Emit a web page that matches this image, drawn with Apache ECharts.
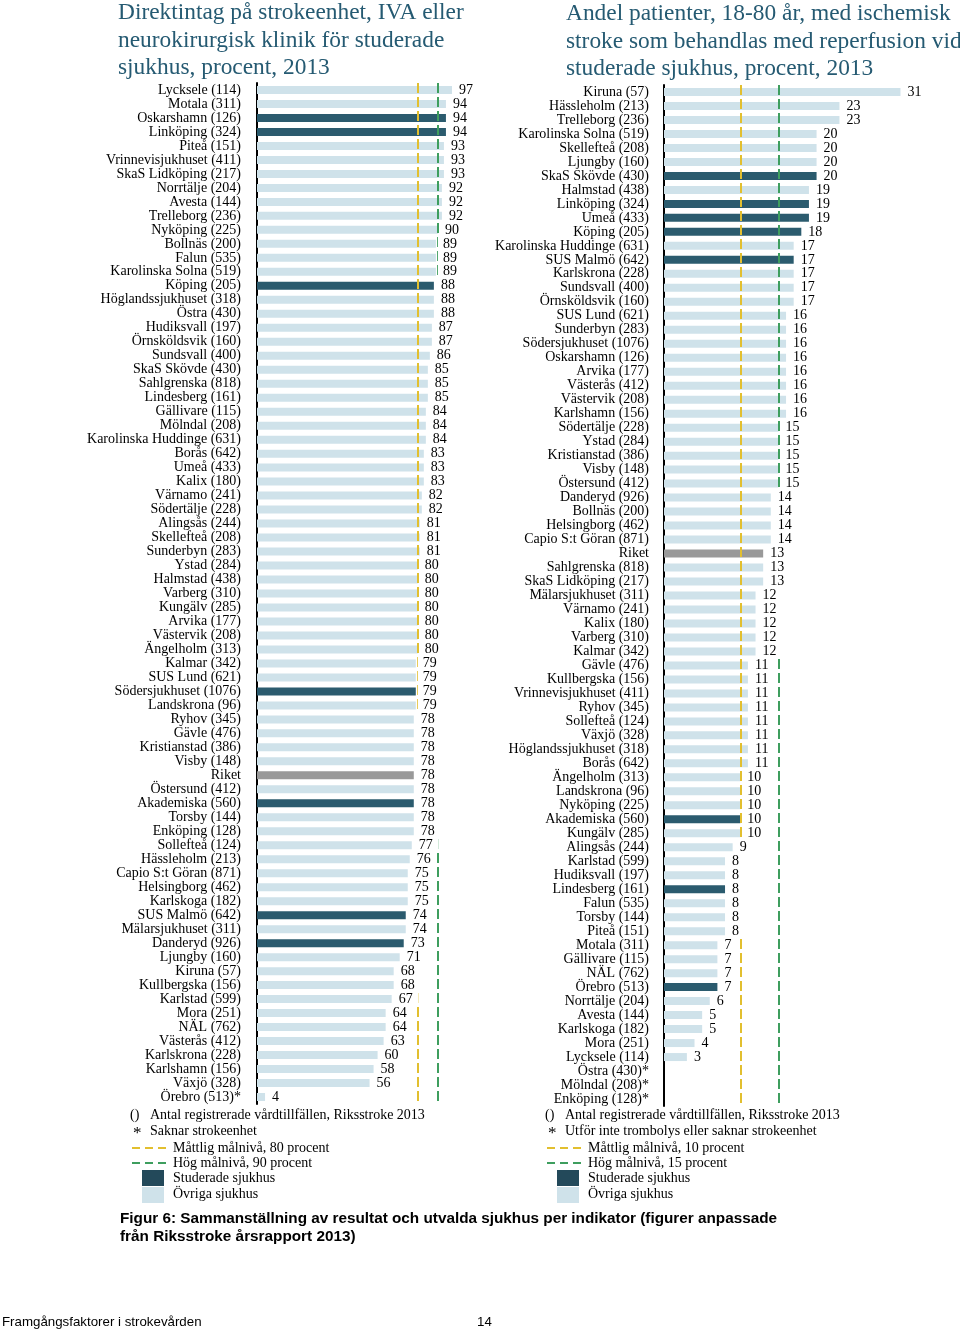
<!DOCTYPE html>
<html><head><meta charset="utf-8">
<script src="https://cdn.jsdelivr.net/npm/echarts@6/dist/echarts.min.js"></script>
<style>html,body{margin:0;padding:0;background:#fff}#c{width:960px;height:1331px}</style>
</head><body><div id="c"></div>
<script>
const leftCategories = ['Lycksele (114)','Motala (311)','Oskarshamn (126)','Linköping (324)','Piteå (151)','Vrinnevisjukhuset (411)','SkaS Lidköping (217)','Norrtälje (204)','Avesta (144)','Trelleborg (236)','Nyköping (225)','Bollnäs (200)','Falun (535)','Karolinska Solna (519)','Köping (205)','Höglandssjukhuset (318)','Östra (430)','Hudiksvall (197)','Örnsköldsvik (160)','Sundsvall (400)','SkaS Skövde (430)','Sahlgrenska (818)','Lindesberg (161)','Gällivare (115)','Mölndal (208)','Karolinska Huddinge (631)','Borås (642)','Umeå (433)','Kalix (180)','Värnamo (241)','Södertälje (228)','Alingsås (244)','Skellefteå (208)','Sunderbyn (283)','Ystad (284)','Halmstad (438)','Varberg (310)','Kungälv (285)','Arvika (177)','Västervik (208)','Ängelholm (313)','Kalmar (342)','SUS Lund (621)','Södersjukhuset (1076)','Landskrona (96)','Ryhov (345)','Gävle (476)','Kristianstad (386)','Visby (148)','Riket','Östersund (412)','Akademiska (560)','Torsby (144)','Enköping (128)','Sollefteå (124)','Hässleholm (213)','Capio S:t Göran (871)','Helsingborg (462)','Karlskoga (182)','SUS Malmö (642)','Mälarsjukhuset (311)','Danderyd (926)','Ljungby (160)','Kiruna (57)','Kullbergska (156)','Karlstad (599)','Mora (251)','NÄL (762)','Västerås (412)','Karlskrona (228)','Karlshamn (156)','Växjö (328)','Örebro (513)*'];
const leftValues = [97,94,94,94,93,93,93,92,92,92,90,89,89,89,88,88,88,87,87,86,85,85,85,84,84,84,83,83,83,82,82,81,81,81,80,80,80,80,80,80,80,79,79,79,79,78,78,78,78,78,78,78,78,78,77,76,75,75,75,74,74,73,71,68,68,67,64,64,63,60,58,56,4];
const leftStudied = ['Oskarshamn (126)','Linköping (324)','Köping (205)','Södersjukhuset (1076)','Akademiska (560)','SUS Malmö (642)','Danderyd (926)'];
const leftTargets = [80, 90];

const rightCategories = ['Kiruna (57)','Hässleholm (213)','Trelleborg (236)','Karolinska Solna (519)','Skellefteå (208)','Ljungby (160)','SkaS Skövde (430)','Halmstad (438)','Linköping (324)','Umeå (433)','Köping (205)','Karolinska Huddinge (631)','SUS Malmö (642)','Karlskrona (228)','Sundsvall (400)','Örnsköldsvik (160)','SUS Lund (621)','Sunderbyn (283)','Södersjukhuset (1076)','Oskarshamn (126)','Arvika (177)','Västerås (412)','Västervik (208)','Karlshamn (156)','Södertälje (228)','Ystad (284)','Kristianstad (386)','Visby (148)','Östersund (412)','Danderyd (926)','Bollnäs (200)','Helsingborg (462)','Capio S:t Göran (871)','Riket','Sahlgrenska (818)','SkaS Lidköping (217)','Mälarsjukhuset (311)','Värnamo (241)','Kalix (180)','Varberg (310)','Kalmar (342)','Gävle (476)','Kullbergska (156)','Vrinnevisjukhuset (411)','Ryhov (345)','Sollefteå (124)','Växjö (328)','Höglandssjukhuset (318)','Borås (642)','Ängelholm (313)','Landskrona (96)','Nyköping (225)','Akademiska (560)','Kungälv (285)','Alingsås (244)','Karlstad (599)','Hudiksvall (197)','Lindesberg (161)','Falun (535)','Torsby (144)','Piteå (151)','Motala (311)','Gällivare (115)','NÄL (762)','Örebro (513)','Norrtälje (204)','Avesta (144)','Karlskoga (182)','Mora (251)','Lycksele (114)','Östra (430)*','Mölndal (208)*','Enköping (128)*'];
const rightValues = [31,23,23,20,20,20,20,19,19,19,18,17,17,17,17,17,16,16,16,16,16,16,16,16,15,15,15,15,15,14,14,14,14,13,13,13,12,12,12,12,12,11,11,11,11,11,11,11,11,10,10,10,10,10,9,8,8,8,8,8,8,7,7,7,7,6,5,5,4,3,null,null,null];
const rightStudied = ['SkaS Skövde (430)','Linköping (324)','Umeå (433)','Köping (205)','SUS Malmö (642)','Akademiska (560)','Lindesberg (161)','Örebro (513)'];
const rightTargets = [10, 15];

const SERIF = '"Liberation Serif","Times New Roman",serif';
const SANS = '"Liberation Sans",Arial,sans-serif';
const DARK = '#2B5B6E', LIGHT = '#CFE2EA', GRAY = '#999999';
const YELLOW = '#E2BF2F', GREEN = '#3E9E5E', TITLE = '#255A72';

function barColor(name, studied) {
  if (name === 'Riket') return GRAY;
  return studied.indexOf(name) >= 0 ? DARK : LIGHT;
}

function makeSeries(idx, cats, vals, studied, targets) {
  return [
    {
      type: 'bar', xAxisIndex: idx, yAxisIndex: idx, barWidth: 8, barGap: '-100%', z: 2,
      animation: false,
      data: vals.map((v, i) => ({ value: v, itemStyle: { color: barColor(cats[i], studied) } })),
      markLine: {
        silent: true, symbol: 'none', z: 3, animation: false, label: { show: false },
        data: [
          { xAxis: targets[0], lineStyle: { color: YELLOW, type: [10, 4], width: 2 } },
          { xAxis: targets[1], lineStyle: { color: GREEN, type: [10, 4], width: 2 } }
        ]
      }
    },
    {
      type: 'bar', xAxisIndex: idx, yAxisIndex: idx, barWidth: 8, barGap: '-100%', z: 10,
      silent: true, animation: false,
      itemStyle: { color: 'rgba(0,0,0,0)' },
      label: {
        show: true, position: 'right', distance: 2,
        formatter: p => (p.value == null ? '' : String(p.value)),
        fontFamily: SERIF, fontSize: 14, color: '#000',
        backgroundColor: '#fff', padding: [1, 6, 0, 5], lineHeight: 13
      },
      data: vals
    }
  ];
}

function yAxisFor(idx, cats, margin) {
  return {
    type: 'category', gridIndex: idx, inverse: true, data: cats,
    axisLine: { show: true, lineStyle: { color: '#000', width: 2 } },
    axisTick: { show: false },
    axisLabel: { fontFamily: SERIF, fontSize: 14, color: '#000', margin: margin, interval: 0 }
  };
}

function legendGroup(x0, starText, lowText, highText) {
  const f = '14px ' + SERIF;
  const els = [];
  const t = (text, x, y) => els.push({ type: 'text', style: { text, x, y, font: f, fill: '#000', verticalAlign: 'middle' } });
  t('()', x0, 1115);
  t('Antal registrerade vårdtillfällen, Riksstroke 2013', x0 + 20, 1115);
  els.push({ type: 'text', style: { text: '*', x: x0 + 3, y: 1134, font: '17px ' + SERIF, fill: '#000', verticalAlign: 'middle' } });
  t(starText, x0 + 20, 1131);
  els.push({ type: 'line', shape: { x1: x0 + 2, y1: 1148, x2: x0 + 36, y2: 1148 }, style: { stroke: YELLOW, lineWidth: 2, lineDash: [8, 5] } });
  t(lowText, x0 + 43, 1148);
  els.push({ type: 'line', shape: { x1: x0 + 2, y1: 1163, x2: x0 + 36, y2: 1163 }, style: { stroke: GREEN, lineWidth: 2, lineDash: [8, 5] } });
  t(highText, x0 + 43, 1163);
  els.push({ type: 'rect', shape: { x: x0 + 12, y: 1170, width: 22, height: 16 }, style: { fill: '#23495A' } });
  t('Studerade sjukhus', x0 + 43, 1178);
  els.push({ type: 'rect', shape: { x: x0 + 12, y: 1187, width: 22, height: 16 }, style: { fill: LIGHT } });
  t('Övriga sjukhus', x0 + 43, 1194);
  return els;
}

const chart = echarts.init(document.getElementById('c'), null, { renderer: 'canvas' });
chart.setOption({
  animation: false,
  backgroundColor: '#fff',
  title: [
    { text: 'Direktintag på strokeenhet, IVA eller\nneurokirurgisk klinik för studerade\nsjukhus, procent, 2013', left: 118, top: -1, padding: 0,
      textStyle: { fontFamily: SERIF, fontSize: 23.4, fontWeight: 'normal', color: TITLE, lineHeight: 27.7 } },
    { text: 'Andel patienter, 18-80 år, med ischemisk\nstroke som behandlas med reperfusion vid\nstuderade sjukhus, procent, 2013', left: 566, top: 0, padding: 0,
      textStyle: { fontFamily: SERIF, fontSize: 23.4, fontWeight: 'normal', color: TITLE, lineHeight: 27.7 } }
  ],
  grid: [
    { left: 257, top: 83, width: 201, height: 1021 },
    { left: 664, top: 85, width: 267, height: 1021 }
  ],
  xAxis: [
    { type: 'value', gridIndex: 0, min: 0, max: 100, show: false },
    { type: 'value', gridIndex: 1, min: 0, max: 35, show: false }
  ],
  yAxis: [yAxisFor(0, leftCategories, 16), yAxisFor(1, rightCategories, 15)],
  series: [].concat(
    makeSeries(0, leftCategories, leftValues, leftStudied, leftTargets),
    makeSeries(1, rightCategories, rightValues, rightStudied, rightTargets)
  ),
  graphic: [].concat(
    legendGroup(130, 'Saknar strokeenhet', 'Måttlig målnivå, 80 procent', 'Hög målnivå, 90 procent'),
    legendGroup(545, 'Utför inte trombolys eller saknar strokeenhet', 'Måttlig målnivå, 10 procent', 'Hög målnivå, 15 procent'),
    [
      { type: 'text', style: { text: 'Figur 6: Sammanställning av resultat och utvalda sjukhus per indikator (figurer anpassade', x: 120, y: 1219, font: 'bold 15.3px ' + SANS, fill: '#000', verticalAlign: 'middle' } },
      { type: 'text', style: { text: 'från Riksstroke årsrapport 2013)', x: 120, y: 1237, font: 'bold 15.3px ' + SANS, fill: '#000', verticalAlign: 'middle' } },
      { type: 'text', style: { text: 'Framgångsfaktorer i strokevården', x: 2, y: 1322, font: '13.3px ' + SANS, fill: '#000', verticalAlign: 'middle' } },
      { type: 'text', style: { text: '14', x: 477, y: 1322, font: '13.3px ' + SANS, fill: '#000', verticalAlign: 'middle' } }
    ]
  )
});
</script>
</body></html>
